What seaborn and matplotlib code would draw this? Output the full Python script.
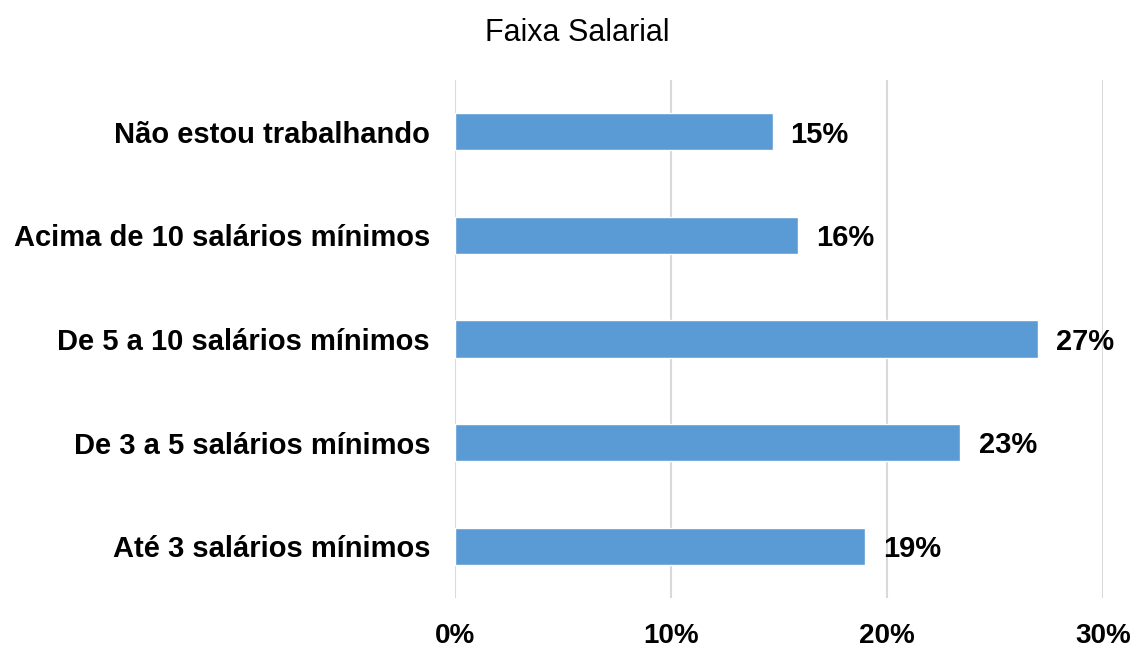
import matplotlib
matplotlib.use("Agg")
import matplotlib.pyplot as plt
import seaborn as sns
import pandas as pd
from matplotlib.ticker import FuncFormatter

categories = [
    "Não estou trabalhando",
    "Acima de 10 salários mínimos",
    "De 5 a 10 salários mínimos",
    "De 3 a 5 salários mínimos",
    "Até 3 salários mínimos",
]
values = [14.7, 15.9, 27.0, 23.4, 19.0]
labels = ["15%", "16%", "27%", "23%", "19%"]
x_ticks = [0, 10, 20, 30]

df = pd.DataFrame({"faixa": categories, "pct": values})

sns.set_theme(style="white")
plt.rcParams["font.family"] = ["Liberation Sans", "DejaVu Sans"]

fig = plt.figure(figsize=(11.37, 6.48), dpi=100)
ax = fig.add_axes([0.4002, 0.0772, 0.5699, 0.7993])

sns.barplot(data=df, x="pct", y="faixa", color="#5B9BD5", width=0.36,
            saturation=1, ax=ax, zorder=3)

# rótulos de valor
anns = ax.bar_label(ax.containers[0], labels=labels, padding=13,
                    fontsize=21, fontweight="bold", color="black")
for a in anns:
    a.xyann = (a.xyann[0], -2)

ax.set_xlim(0, 30)
ax.set_ylim(4.5, -0.5)
ax.set_xticks(x_ticks)
ax.xaxis.set_major_formatter(FuncFormatter(lambda v, p: f"{v:.0f}%"))
ax.grid(axis="x", color="#D9D9D9", linewidth=1.5, zorder=0)
ax.grid(axis="y", visible=False)
for s in ax.spines.values():
    s.set_visible(False)

ax.tick_params(axis="x", length=0, pad=18, labelsize=20)
ax.tick_params(axis="y", length=0, pad=18, labelsize=21)
for t in ax.get_xticklabels() + ax.get_yticklabels():
    t.set_fontweight("bold")
    t.set_color("black")

ax.set_xlabel("")
ax.set_ylabel("")
fig.text(0.508, 0.949, "Faixa Salarial", ha="center", va="center", fontsize=22, color="black")

fig.savefig("out.png", dpi=100)
